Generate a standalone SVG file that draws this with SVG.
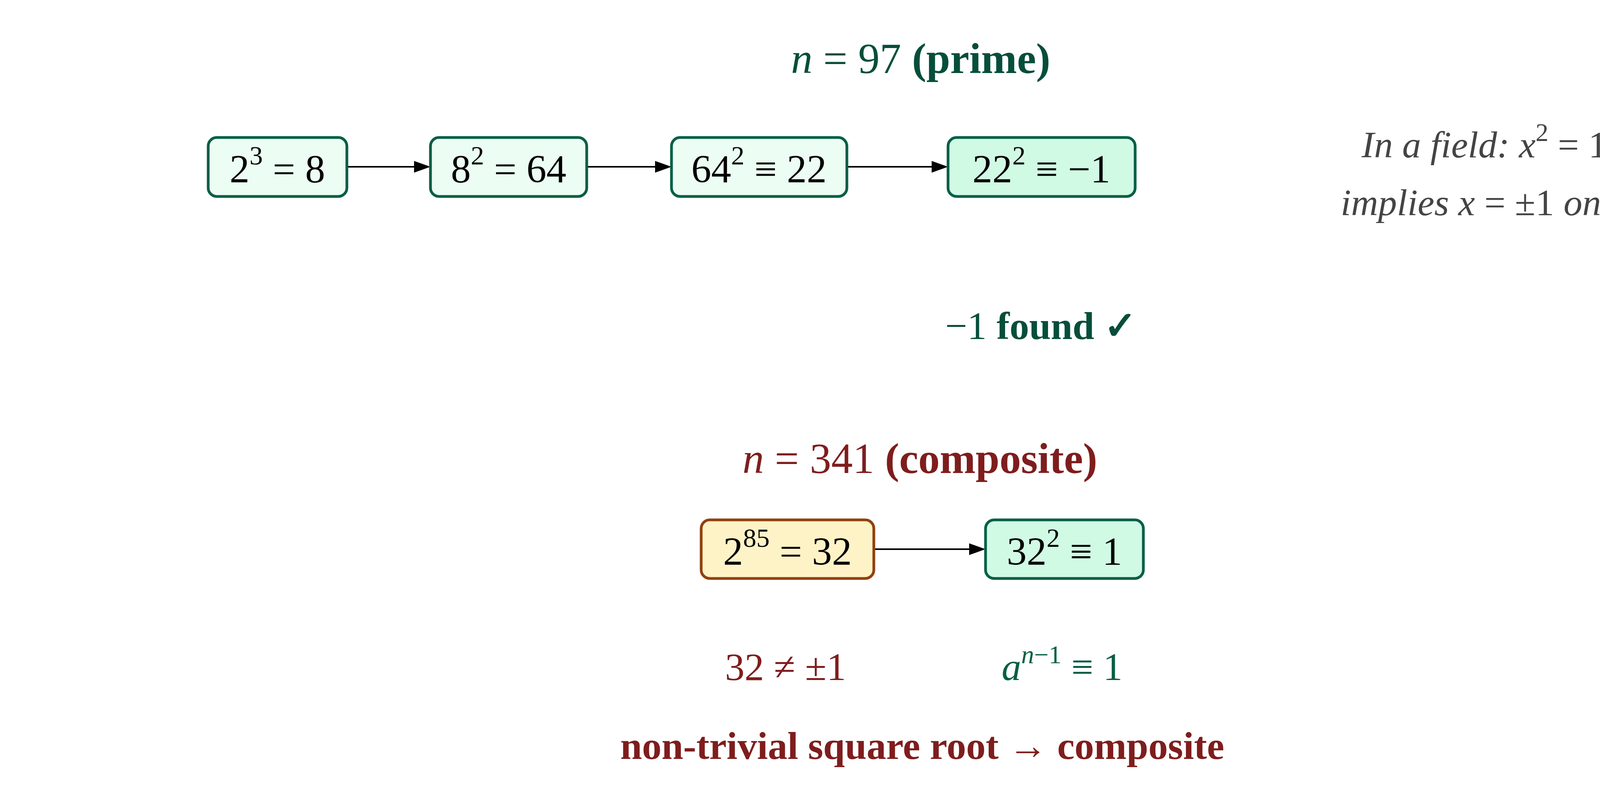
<svg xmlns="http://www.w3.org/2000/svg" width="4722" height="2020" viewBox="0 0 4722 2020">
<style>
text{font-family:"Liberation Serif","DejaVu Serif",serif;text-anchor:middle;dominant-baseline:central}
.bx{font-size:102px;fill:#000}
.sup{font-size:68px}
.g{fill:#ecfdf3;stroke:#065f46;stroke-width:7}
.gd{fill:#d1fae5;stroke:#065f46;stroke-width:7}
.y{fill:#fef3c7;stroke:#92400e;stroke-width:7}
.tg{fill:#064e3b;font-size:110px}
.tr{fill:#7f1d1d;font-size:110px}
.note{fill:#444;font-size:96px;font-style:italic}
.lg{fill:#065f46;font-size:100px}
.lr{fill:#7f1d1d;font-size:100px}
.b{font-weight:bold}
.i{font-style:italic}
.ln{stroke:#000;stroke-width:4;fill:none}
</style>
<rect width="4722" height="2020" fill="#fff"/>
<g id="title1"><text class="tg" x="2357" y="150"><tspan class="i">n</tspan> = 97 <tspan class="b">(prime)</tspan></text></g>
<g id="connectors">
<line class="ln" x1="888" y1="427" x2="1070" y2="427"/><path d="M1060,412L1102,427L1060,442z"/>
<line class="ln" x1="1502" y1="427" x2="1685" y2="427"/><path d="M1677,412L1719,427L1677,442z"/>
<line class="ln" x1="2168" y1="427" x2="2395" y2="427"/><path d="M2385,412L2427,427L2385,442z"/>
<line class="ln" x1="2237" y1="1406" x2="2490" y2="1406"/><path d="M2481,1391L2523,1406L2481,1421z"/>
</g>
<g id="b1"><rect class="g" x="533" y="352" width="355" height="151" rx="22"/><text class="bx" x="710" y="432">2<tspan dy="-34" class="sup">3</tspan><tspan dy="34"> = 8</tspan></text></g>
<g id="b2"><rect class="g" x="1102" y="352" width="400" height="151" rx="22"/><text class="bx" x="1302" y="432">8<tspan dy="-34" class="sup">2</tspan><tspan dy="34"> = 64</tspan></text></g>
<g id="b3"><rect class="g" x="1719" y="352" width="449" height="151" rx="22"/><text class="bx" x="1943" y="432">64<tspan dy="-34" class="sup">2</tspan><tspan dy="34"> ≡ 22</tspan></text></g>
<g id="b4"><rect class="gd" x="2427" y="352" width="479" height="151" rx="22"/><text class="bx" x="2666" y="432">22<tspan dy="-34" class="sup">2</tspan><tspan dy="34"> ≡ −1</tspan></text></g>
<g id="note"><text class="note" x="3800" y="370">In a field: x<tspan dy="-32" font-size="66" font-style="normal">2</tspan><tspan dy="32" font-style="normal"> = 1</tspan></text>
<text class="note" x="3800" y="518">implies x <tspan font-style="normal">= ±1</tspan> only</text></g>
<g id="found"><text class="tg" x="2665" y="834" style="font-size:100px">−1 <tspan class="b">found ✓</tspan></text></g>
<g id="title2"><text class="tr" x="2355" y="1174"><tspan class="i">n</tspan> = 341 <tspan class="b">(composite)</tspan></text></g>
<g id="b5"><rect class="y" x="1795" y="1331" width="442" height="150" rx="22"/><text class="bx" x="2016" y="1411">2<tspan dy="-34" class="sup">85</tspan><tspan dy="34"> = 32</tspan></text></g>
<g id="b6"><rect class="gd" x="2523" y="1331" width="404" height="150" rx="22"/><text class="bx" x="2725" y="1411">32<tspan dy="-34" class="sup">2</tspan><tspan dy="34"> ≡ 1</tspan></text></g>
<g id="l1"><text class="lr" x="2011" y="1707">32 ≠ ±1</text></g>
<g id="l2"><text class="lg" x="2719" y="1707"><tspan class="i">a</tspan><tspan dy="-32" font-size="66"><tspan class="i">n</tspan>−1</tspan><tspan dy="32"> ≡ 1</tspan></text></g>
<g id="concl"><text class="lr b" x="2361" y="1909">non-trivial square root → composite</text></g>
</svg>
